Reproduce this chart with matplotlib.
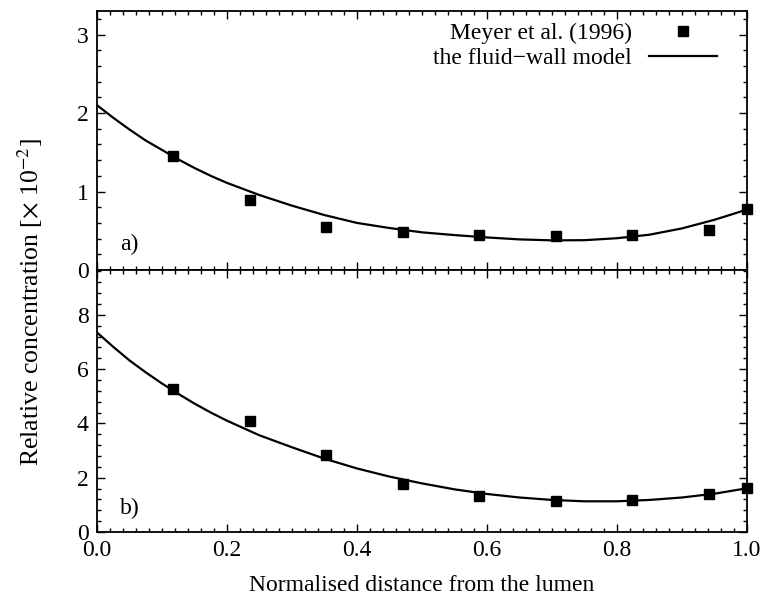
import numpy as np
import matplotlib
matplotlib.use("Agg")
import matplotlib.pyplot as plt
from matplotlib.ticker import MultipleLocator, FormatStrFormatter

plt.rcParams["font.family"] = ["Liberation Serif", "DejaVu Serif"]
plt.rcParams["mathtext.fontset"] = "stix"

# measured profiles (Meyer et al. 1996), normalised wall position
x_data = [0.1176, 0.2353, 0.3529, 0.4706, 0.5882, 0.7059, 0.8235, 0.9412, 1.0]
meyer_a = [1.45, 0.89, 0.55, 0.49, 0.44, 0.43, 0.44, 0.51, 0.78]
meyer_b = [5.27, 4.10, 2.82, 1.78, 1.34, 1.13, 1.17, 1.40, 1.62]

# fluid-wall model curves (finer steps near the lumen where they bend most)
x_model = [0.000, 0.025, 0.050, 0.075, 0.100, 0.125, 0.150, 0.175, 0.200,
           0.25, 0.30, 0.35, 0.40, 0.45, 0.50, 0.55, 0.60, 0.65, 0.70,
           0.75, 0.80, 0.85, 0.90, 0.95, 1.00]
model_a = [2.10, 1.94, 1.79, 1.65, 1.53, 1.41, 1.30, 1.20, 1.11,
           0.955, 0.82, 0.70, 0.60, 0.535, 0.48, 0.445, 0.415, 0.39, 0.378,
           0.38, 0.405, 0.45, 0.53, 0.64, 0.77]
model_b = [7.35, 6.82, 6.32, 5.88, 5.47, 5.09, 4.73, 4.40, 4.10,
           3.56, 3.12, 2.70, 2.34, 2.04, 1.79, 1.57, 1.40, 1.27, 1.18,
           1.13, 1.13, 1.18, 1.27, 1.41, 1.61]

FS = 17

fig = plt.figure(figsize=(7.63, 6.05), dpi=100)
ax_a = fig.add_axes([0.1271, 0.5537, 0.8519, 0.4281])
ax_b = fig.add_axes([0.1271, 0.1207, 0.8519, 0.4330])


def style(ax, ymax, ymaj, ymin):
    ax.set_xlim(0, 1)
    ax.set_ylim(0, ymax)
    ax.xaxis.set_major_locator(MultipleLocator(0.2))
    ax.xaxis.set_minor_locator(MultipleLocator(0.02))
    ax.yaxis.set_major_locator(MultipleLocator(ymaj))
    ax.yaxis.set_minor_locator(MultipleLocator(ymin))
    ax.tick_params(which="both", direction="in", top=True, right=True,
                   labelsize=FS, width=1.0, pad=6)
    ax.tick_params(which="major", length=6)
    ax.tick_params(which="minor", length=3)
    for s in ax.spines.values():
        s.set_linewidth(1.3)


style(ax_a, 3.3, 1, 0.2)
style(ax_b, 9.65, 2, 0.4)
ax_a.tick_params(labelbottom=False)
ax_b.xaxis.set_major_formatter(FormatStrFormatter("%.1f"))

ax_a.plot(x_model, model_a, color="black", lw=1.6, label="the fluid\u2212wall model")
ax_a.plot(x_data, meyer_a, "s", color="black", ms=6.5, clip_on=False,
          label="Meyer et al. (1996)")
ax_b.plot(x_model, model_b, color="black", lw=1.6)
ax_b.plot(x_data, meyer_b, "s", color="black", ms=6.5, clip_on=False)

h, l = ax_a.get_legend_handles_labels()
ax_a.legend(h[::-1], l[::-1], loc="upper right", bbox_to_anchor=(0.954, 0.955),
            markerfirst=False, frameon=False, fontsize=FS, borderpad=0,
            borderaxespad=0, handlelength=2.9, handletextpad=0.7,
            labelspacing=0.15, numpoints=1)

ax_a.text(0.035, 0.1, "a)", transform=ax_a.transAxes, fontsize=FS, va="center")
ax_b.text(0.035, 0.09, "b)", transform=ax_b.transAxes, fontsize=FS, va="center")

ax_b.set_xlabel("Normalised distance from the lumen", fontsize=FS, labelpad=10)
fig.text(0.04, 0.5, r"Relative concentration [$\times$ 10$^{-2}$]", fontsize=18.5,
         rotation=90, ha="center", va="center")

fig.savefig("out.png", dpi=100)
